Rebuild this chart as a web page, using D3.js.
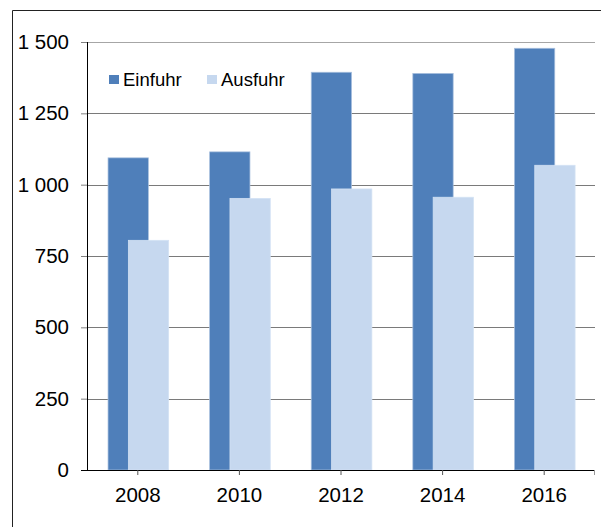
<!DOCTYPE html>
<html>
<head>
<meta charset="utf-8">
<script src="https://cdn.jsdelivr.net/npm/d3@7"></script>
<style>
  body { margin: 0; background: #fff; }
  svg { display: block; font-family: "Liberation Sans", Arial, sans-serif; }
</style>
</head>
<body>
<svg id="chart" width="601" height="527"></svg>
<script>
const years = ["2008", "2010", "2012", "2014", "2016"];
const seriesNames = ["Einfuhr", "Ausfuhr"];
const einfuhr = [1094, 1115, 1394, 1390, 1478];
const ausfuhr = [805, 952, 985, 956, 1068];
const yTicks = [0, 250, 500, 750, 1000, 1250, 1500];

const colors = { Einfuhr: "#4f7fba", Ausfuhr: "#c6d8ef" };

const plot = { left: 87, right: 595, top: 42, bottom: 470 };

const svg = d3.select("#chart");

// outer frame (only left and top edges are visible in the crop)
svg.append("path")
  .attr("d", "M12.5,527 L12.5,10.5 L601,10.5")
  .attr("fill", "none")
  .attr("stroke", "#222")
  .attr("stroke-width", 1);

const x = d3.scaleBand().domain(years).range([plot.left, plot.right]);
const y = d3.scaleLinear().domain([0, 1500]).range([plot.bottom, plot.top]);

// gridlines + y ticks
const yAxis = svg.append("g")
  .attr("transform", `translate(${plot.left},0)`)
  .call(d3.axisLeft(y).tickValues(yTicks).tickSize(6).tickPadding(12)
    .tickFormat(d => d3.format(",")(d).replace(",", " ")));
yAxis.select(".domain").remove();
yAxis.selectAll(".tick line").attr("stroke", "#808080");
yAxis.selectAll(".tick text").attr("font-size", 20.5).attr("fill", "#000")
  .attr("font-family", "Liberation Sans, Arial, sans-serif");

svg.append("g").selectAll("line")
  .data(yTicks.filter(d => d > 0))
  .join("line")
  .attr("x1", plot.left).attr("x2", plot.right)
  .attr("y1", d => Math.round(y(d)) + 0.5).attr("y2", d => Math.round(y(d)) + 0.5)
  .attr("stroke", d => d === 1500 ? "#a6a6a6" : "#7a7a7a")
  .attr("stroke-width", 1);

// bars
const bw = x.bandwidth();
const barW = bw * 0.397;
const table = years.map((yr, i) => ({ year: yr, Einfuhr: einfuhr[i], Ausfuhr: ausfuhr[i] }));

seriesNames.forEach((s, si) => {
  svg.append("g").selectAll("rect")
    .data(table)
    .join("rect")
    .attr("x", d => x(d.year) + bw * 0.207 + si * bw * 0.2)
    .attr("y", d => y(d[s]))
    .attr("width", barW)
    .attr("height", d => y(0) - y(d[s]))
    .attr("fill", colors[s])
    .attr("stroke", s === "Einfuhr" ? "#a9c0de" : "#d4e2f4")
    .attr("stroke-width", 0.75);
});

// x axis
const xAxis = svg.append("g")
  .attr("transform", `translate(0,${plot.bottom})`)
  .call(d3.axisBottom(x).tickSize(5).tickPadding(12).tickSizeOuter(0));
xAxis.select(".domain").attr("stroke", "#000")
  .attr("d", `M${plot.left - 6},0.5H${plot.right}`);
xAxis.selectAll(".tick line").attr("stroke", "#555");
xAxis.selectAll(".tick text").attr("font-size", 20.5).attr("fill", "#000")
  .attr("font-family", "Liberation Sans, Arial, sans-serif");
xAxis.append("line")
  .attr("x1", plot.right - 0.5).attr("x2", plot.right - 0.5)
  .attr("y1", 0).attr("y2", 5).attr("stroke", "#999");

// y axis line
svg.append("line")
  .attr("x1", plot.left + 0.5).attr("x2", plot.left + 0.5)
  .attr("y1", plot.top).attr("y2", plot.bottom)
  .attr("stroke", "#000");

// legend
const legendX = [109, 207];
const legend = svg.append("g").selectAll("g")
  .data(seriesNames)
  .join("g")
  .attr("transform", (d, i) => `translate(${legendX[i]},75)`);
legend.append("rect")
  .attr("width", 10).attr("height", 9)
  .attr("fill", d => colors[d]);
legend.append("text")
  .attr("x", 14).attr("y", 11)
  .attr("font-size", 18.5)
  .attr("fill", "#000")
  .text(d => d);
</script>
</body>
</html>
